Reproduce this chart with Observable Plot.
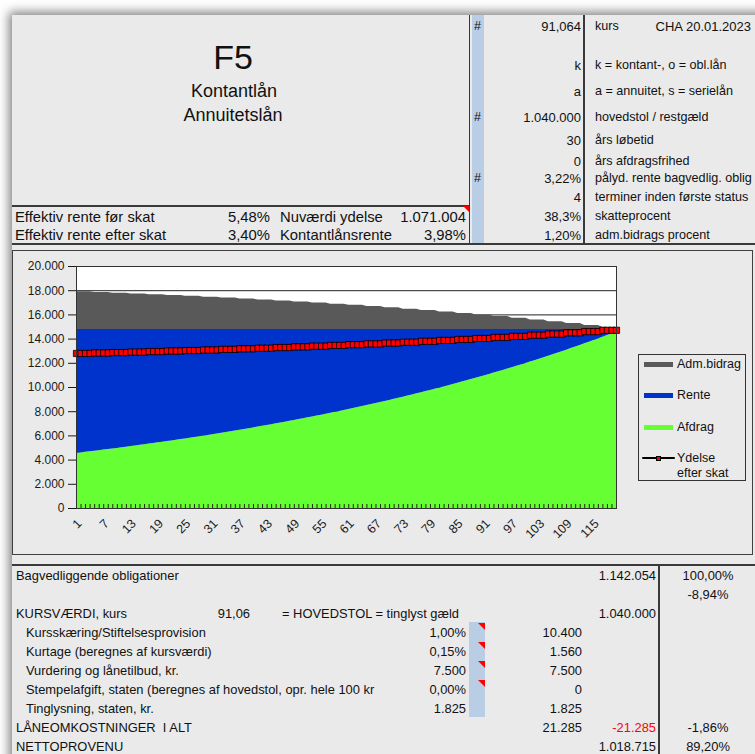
<!DOCTYPE html>
<html><head><meta charset="utf-8">
<script src="https://cdn.jsdelivr.net/npm/d3@7"></script>
<script src="https://cdn.jsdelivr.net/npm/@observablehq/plot@0.6"></script>
<style>
html,body{margin:0;padding:0;width:755px;height:754px;overflow:hidden;background:#fff;font-family:"Liberation Sans",Arial,sans-serif;color:#111;}
#sheet{position:absolute;left:12px;top:15px;width:780px;height:780px;background:#eaeaea;box-shadow:0 0 10px 3px rgba(0,0,0,0.5);}
.t{position:absolute;white-space:pre;line-height:1;}
.r{position:absolute;}
#chart{position:absolute;left:12px;top:250px;}
</style></head><body>
<div id="sheet"></div>
<script>
// ---------------- DATA ----------------
const terms = d3.range(1, 121);
const afdrag = [4550,4595,4640,4685,4732,4779,4826,4873,4920,4968,5017,5066,5117,5167,5218,5269,5321,5373,5426,5479,5533,5587,5642,5698,5754,5811,5868,5925,5983,6042,6101,6161,6222,6283,6345,6407,6470,6534,6598,6663,6728,6794,6861,6928,6997,7066,7135,7205,7276,7348,7420,7493,7566,7640,7715,7791,7868,7945,8023,8102,8182,8262,8344,8426,8508,8592,8676,8761,8848,8935,9023,9112,9201,9291,9383,9475,9568,9662,9757,9853,9950,10048,10147,10246,10347,10449,10552,10655,10760,10866,10973,11080,11189,11299,11410,11522,11635,11749,11865,11981,12099,12218,12338,12459,12582,12706,12831,12957,13084,13213,13342,13473,13606,13740,13875,14011,14149,14288,14429,14570];
const rente = [10236,10191,10146,10101,10054,10007,9960,9913,9866,9818,9769,9720,9669,9619,9568,9517,9465,9413,9360,9307,9253,9199,9144,9088,9032,8975,8918,8861,8803,8744,8685,8625,8564,8503,8441,8379,8316,8252,8188,8123,8058,7992,7925,7858,7789,7720,7651,7581,7510,7438,7366,7293,7220,7146,7071,6995,6918,6841,6763,6684,6604,6524,6442,6360,6278,6194,6110,6025,5938,5851,5763,5674,5585,5495,5403,5311,5218,5124,5029,4933,4836,4738,4639,4540,4439,4337,4234,4131,4026,3920,3813,3706,3597,3487,3376,3264,3151,3037,2921,2805,2687,2568,2448,2327,2204,2080,1955,1829,1702,1573,1444,1313,1180,1046,911,775,637,498,357,216];
const admBidrag = [3117,3117,3117,3117,3062,3062,3062,3062,3004,3004,3004,3004,2944,2944,2944,2944,2881,2881,2881,2881,2816,2816,2816,2816,2748,2748,2748,2748,2678,2678,2678,2678,2605,2605,2605,2605,2528,2528,2528,2528,2449,2449,2449,2449,2367,2367,2367,2367,2281,2281,2281,2281,2192,2192,2192,2192,2100,2100,2100,2100,2004,2004,2004,2004,1903,1903,1903,1903,1799,1799,1799,1799,1691,1691,1691,1691,1578,1578,1578,1578,1461,1461,1461,1461,1339,1339,1339,1339,1213,1213,1213,1213,1081,1081,1081,1081,944,944,944,944,802,802,802,802,654,654,654,654,500,500,500,500,340,340,340,340,173,173,173,173];
const ydelseEfterSkat = [12814,12814,12814,12814,12851,12851,12851,12851,12888,12888,12888,12888,12928,12928,12928,12928,12969,12969,12969,12969,13011,13011,13011,13011,13055,13055,13055,13055,13100,13100,13100,13100,13148,13148,13148,13148,13198,13198,13198,13198,13249,13249,13249,13249,13303,13303,13303,13303,13358,13358,13358,13358,13416,13416,13416,13416,13477,13477,13477,13477,13539,13539,13539,13539,13604,13604,13604,13604,13672,13672,13672,13672,13742,13742,13742,13742,13816,13816,13816,13816,13891,13891,13891,13891,13971,13971,13971,13971,14053,14053,14053,14053,14139,14139,14139,14139,14227,14227,14227,14227,14321,14321,14321,14321,14417,14417,14417,14417,14518,14518,14518,14518,14621,14621,14621,14621,14729,14729,14729,14729];
const yTicks = [0,2000,4000,6000,8000,10000,12000,14000,16000,18000,20000];
const xLabelTicks = [1,7,13,19,25,31,37,43,49,55,61,67,73,79,85,91,97,103,109,115];
const areaSeries = ["Afdrag","Rente","Adm.bidrag"];
const areaColors = ["#66ff33","#0033cc","#595959"];
const legendNames = ["Adm.bidrag","Rente","Afdrag","Ydelse\nefter skat"];

const titleLines = ["F5","Kontantlån","Annuitetslån"];
const effRows = [
  ["Effektiv rente før skat","5,48%","Nuværdi ydelse","1.071.004"],
  ["Effektiv rente efter skat","3,40%","Kontantlånsrente","3,98%"]
];
const paramHash = ["#","","","","#","","","#","","",""];
const paramValues = ["91,064","","k","a","1.040.000","30","0","3,22%","4","38,3%","1,20%"];
const paramLabels = ["kurs","","k = kontant-, o = obl.lån","a = annuitet, s = serielån","hovedstol / restgæld","års løbetid","års afdragsfrihed","pålyd. rente bagvedlig. oblig","terminer inden første status","skatteprocent","adm.bidrags procent"];
const stamp = "CHA 20.01.2023";

const costLabels = ["Bagvedliggende obligationer","","KURSVÆRDI, kurs","Kursskæring/Stiftelsesprovision","Kurtage (beregnes af kursværdi)","Vurdering og lånetilbud, kr.","Stempelafgift, staten (beregnes af hovedstol, opr. hele 100 kr","Tinglysning, staten, kr.","LÅNEOMKOSTNINGER  I ALT","NETTOPROVENU"];
const costIndent = [0,0,0,1,1,1,1,1,0,0];
const costKurs = ["","","91,06","","","","","","",""];
const costNote = ["","","= HOVEDSTOL = tinglyst gæld","","","","","","",""];
const costRate = ["","","","1,00%","0,15%","7.500","0,00%","1.825","",""];
const costAmount = ["","","","10.400","1.560","7.500","0","1.825","21.285",""];
const costTotal = ["1.142.054","","1.040.000","","","","","","-21.285","1.018.715"];
const costPct = ["100,00%","-8,94%","","","","","","","-1,86%","89,20%"];

// ---------------- LAYOUT HELPERS ----------------
function txt(x, y, s, o = {}) {
  const d = document.createElement("div");
  d.className = "t";
  d.textContent = s;
  d.style.fontSize = (o.size || 12.9) + "px";
  d.style.color = o.color || "#111";
  d.style.left = x + "px";
  d.style.top = y + "px";
  const tx = o.anchor === "end" ? "-100%" : o.anchor === "middle" ? "-50%" : "0";
  d.style.transform = `translate(${tx},-50%)`;
  document.body.appendChild(d);
  return d;
}
function rect(x, y, w, h, style) {
  const d = document.createElement("div");
  d.className = "r";
  d.style.left = x + "px"; d.style.top = y + "px";
  d.style.width = w + "px"; d.style.height = h + "px";
  Object.assign(d.style, style);
  document.body.appendChild(d);
  return d;
}
const LC = "#3a3a3a";
function hline(x1, x2, y, w = 1.5) { rect(x1, y - w / 2, x2 - x1, w, {background: LC}); }
function vline(x, y1, y2, w = 1.2) { rect(x - w / 2, y1, w, y2 - y1, {background: LC}); }
function tri(xr, yt, s = 7) {
  rect(xr - s, yt, 0, 0, {borderTop: s + "px solid #ff0000", borderLeft: s + "px solid transparent", width: "0px", height: "0px"});
}

// ---------------- TOP BLOCK ----------------
txt(233, 57, titleLines[0], {anchor: "middle", size: 34});
txt(234, 91, titleLines[1], {anchor: "middle", size: 18});
txt(233, 115, titleLines[2], {anchor: "middle", size: 18});

hline(12, 470, 206, 1.5);
const effY = [217, 235];
effRows.forEach((r, i) => {
  txt(15, effY[i], r[0], {size: 14.8});
  txt(270, effY[i], r[1], {size: 14.8, anchor: "end"});
  txt(280, effY[i], r[2], {size: 14.8});
  txt(466, effY[i], r[3], {size: 14.8, anchor: "end"});
});
tri(470, 206, 7);

rect(472, 15, 12, 229, {background: "#b9cde5"});
vline(469.5, 15, 244, 1.2);
vline(584, 15, 244, 1.2);
const paramY = [26, 45, 65, 91, 117, 140, 161, 178, 197, 216, 235];
paramValues.forEach((v, i) => {
  if (paramHash[i]) txt(474, paramY[i], paramHash[i], {size: 12.5});
  if (v) txt(581, paramY[i], v, {size: 13, anchor: "end"});
  if (paramLabels[i]) txt(595, paramY[i], paramLabels[i], {size: 12.6});
});
txt(751, 26, stamp, {size: 13, anchor: "end"});
hline(12, 755, 244, 1.5);

// ---------------- CHART ----------------
rect(12, 250, 741, 305, {border: "1.5px solid #404040", boxSizing: "border-box"});

const fmt = d3.formatLocale({decimal: ",", thousands: ".", grouping: [3], currency: ["", ""]}).format(",.0f");
const stackRows = [];
terms.forEach((t, i) => {
  stackRows.push({t, s: "Afdrag", v: afdrag[i]});
  stackRows.push({t, s: "Rente", v: rente[i]});
  stackRows.push({t, s: "Adm.bidrag", v: admBidrag[i]});
});
const ydRows = terms.map((t, i) => ({t, v: ydelseEfterSkat[i]}));

const plot = Plot.plot({
  width: 620, height: 305,
  marginLeft: 64, marginRight: 16, marginTop: 16, marginBottom: 47,
  style: {background: "transparent", fontFamily: "Liberation Sans, Arial, sans-serif", fontSize: "12px", color: "#1a1a1a", overflow: "visible"},
  x: {type: "linear", domain: [1, 120], axis: null},
  y: {domain: [0, 20000]},
  color: {domain: areaSeries, range: areaColors},
  marks: [
    Plot.frame({fill: "white", stroke: null}),
    Plot.ruleY(yTicks, {stroke: "#222", strokeWidth: 1}),
    Plot.areaY(stackRows, {x: "t", y: "v", fill: "s", order: areaSeries}),
    Plot.ruleX(terms, {x: d => d, y1: 0, y2: 0, insetTop: -4, stroke: "#1f2a10", strokeWidth: 1}),
    Plot.lineY(ydRows, {x: "t", y: "v", stroke: "#000", strokeWidth: 2}),
    Plot.dot(ydRows, {x: "t", y: "v", symbol: "square", r: 3.5, fill: "#ff0000", stroke: "#000", strokeWidth: 0.8}),
    Plot.frame({stroke: "#333", strokeWidth: 1}),
    Plot.axisY({ticks: yTicks, tickFormat: fmt, tickSize: 8, tickPadding: 4, label: null, fontSize: 12}),
    Plot.text(xLabelTicks, {x: d => d, y: 0, text: d => String(d), rotate: -45, textAnchor: "end", dx: 3, dy: 13, fontSize: 12.5, fill: "#1a1a1a"})
  ]
});
const holder = document.createElement("div");
holder.id = "chart";
holder.appendChild(plot);
document.body.appendChild(holder);

// legend
rect(638, 354, 108, 127, {border: "1.2px solid #333", boxSizing: "border-box"});
const legendY = [364, 395, 427, 458];
const legendFill = ["#595959", "#0033cc", "#66ff33"];
legendNames.forEach((n, i) => {
  const y = legendY[i];
  if (i < 3) {
    rect(644, y - 2.5, 29, 5, {background: legendFill[i]});
    txt(677, y, n, {size: 12.5});
  } else {
    rect(642, y - 1.25, 33, 2.5, {background: "#000", borderRadius: "1px"});
    rect(655.5, y - 2.5, 5, 5, {background: "#ff0000", border: "0.8px solid #000", boxSizing: "border-box"});
    const lines = n.split("\n");
    txt(677, y, lines[0], {size: 12.5});
    txt(677, y + 15, lines[1], {size: 12.5});
  }
});

// ---------------- BOTTOM BLOCK ----------------
hline(12, 755, 565, 1.5);
vline(659, 565, 754, 1.2);
rect(469, 622, 16, 95, {background: "#b9cde5"});
const costY = [576, 595, 614, 633, 652, 671, 690, 709, 728, 747];
costLabels.forEach((l, i) => {
  const y = costY[i];
  if (l) txt(costIndent[i] ? 26 : 16, y, l);
  if (costKurs[i]) txt(250, y, costKurs[i], {anchor: "end"});
  if (costNote[i]) txt(282, y, costNote[i]);
  if (costRate[i]) txt(466, y, costRate[i], {anchor: "end"});
  if (costAmount[i]) txt(582, y, costAmount[i], {anchor: "end"});
  if (costTotal[i]) txt(656, y, costTotal[i], {anchor: "end", color: costTotal[i].startsWith("-") ? "#ff0000" : "#111"});
  if (costPct[i]) txt(708, y, costPct[i], {anchor: "middle"});
});
[633, 652, 671, 690].forEach(y => tri(485, y - 10, 7));
</script>
</body></html>
